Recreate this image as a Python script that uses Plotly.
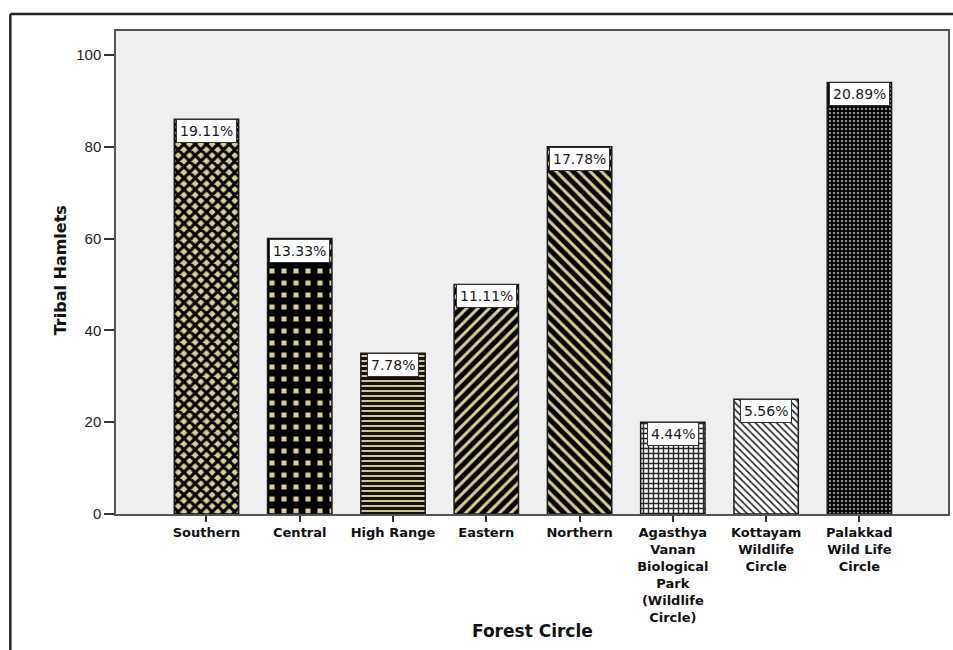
import plotly.graph_objects as go

# Forest circles and the number of tribal hamlets in each
categories = [
    "Southern",
    "Central",
    "High Range",
    "Eastern",
    "Northern",
    "Agasthya<br>Vanan<br>Biological<br>Park<br>(Wildlife<br>Circle)",
    "Kottayam<br>Wildlife<br>Circle",
    "Palakkad<br>Wild Life<br>Circle",
]
hamlets = [86, 60, 35, 50, 80, 20, 25, 94]
share_labels = ["19.11%", "13.33%", "7.78%", "11.11%", "17.78%", "4.44%", "5.56%", "20.89%"]
y_ticks = [0, 20, 40, 60, 80, 100]

KHAKI = "#d8cf93"

# fill pattern for each bar: (shape, foreground, background, size, solidity)
patterns = [
    ("x", "#000000", KHAKI, 8, 0.62),
    ("+", "#000000", KHAKI, 12, 0.82),
    ("-", "#14140c", KHAKI, 5, 0.62),
    ("/", "#000000", KHAKI, 8, 0.62),
    ("\\", "#000000", KHAKI, 8, 0.62),
    ("+", "#2a2a2a", "#ffffff", 5, 0.5),
    ("\\", "#222222", "#ffffff", 5, 0.32),
    (".", "#8c8c8c", "#000000", 4, 0.3),
]

x_idx = list(range(len(categories)))

fig = go.Figure()
for i, (cat, val, pat) in enumerate(zip(categories, hamlets, patterns)):
    shape, fg, bg, size, sol = pat
    fig.add_trace(
        go.Bar(
            x=[i],
            y=[val],
            width=0.69,
            marker=dict(
                color=bg,
                line=dict(color="#1a1a1a", width=1.5),
                pattern=dict(shape=shape, fgcolor=fg, bgcolor=bg, fgopacity=1,
                             size=size, solidity=sol, fillmode="replace"),
            ),
            showlegend=False,
            hoverinfo="skip",
        )
    )

# percentage labels sitting just inside the top of each bar
annotations = []
for i, (val, lab) in enumerate(zip(hamlets, share_labels)):
    annotations.append(
        dict(
            x=i, y=val, xref="x", yref="y",
            text=lab, showarrow=False,
            yanchor="top", xanchor="center",
            bgcolor="#ffffff", bordercolor="#333333", borderwidth=1, borderpad=3,
            font=dict(family="DejaVu Sans", size=14, color="#1a1a1a"),
        )
    )

# axis titles
annotations.append(
    dict(
        x=-0.067, y=0.505, xref="paper", yref="paper",
        text="<b>Tribal Hamlets</b>", showarrow=False, textangle=-90,
        xanchor="center", yanchor="middle",
        font=dict(family="DejaVu Sans", size=16, color="#111111"),
    )
)
annotations.append(
    dict(
        x=0.5, y=-0.242, xref="paper", yref="paper",
        text="<b>Forest Circle</b>", showarrow=False,
        xanchor="center", yanchor="middle",
        font=dict(family="DejaVu Sans", size=17, color="#111111"),
    )
)

# outer frame (top and left edges)
frame_shapes = [
    dict(type="line", xref="paper", yref="paper", x0=-0.127, x1=1.01, y0=1.035, y1=1.035,
         line=dict(color="#222222", width=2.5)),
    dict(type="line", xref="paper", yref="paper", x0=-0.127, x1=-0.127, y0=1.035, y1=-0.3,
         line=dict(color="#222222", width=2.5)),
]

fig.update_layout(
    width=953,
    height=650,
    margin=dict(l=116, r=3, t=31, b=136),
    paper_bgcolor="#ffffff",
    plot_bgcolor="#efefef",
    bargap=0.3,
    annotations=annotations,
    shapes=frame_shapes,
    xaxis=dict(
        range=[-0.97, 7.95],
        tickmode="array",
        tickvals=x_idx,
        ticktext=[f"<b>{c}</b>" for c in categories],
        ticks="outside", ticklen=6, tickwidth=1.5, tickcolor="#333333",
        tickfont=dict(family="DejaVu Sans", size=13, color="#111111"),
        showline=True, linecolor="#555555", linewidth=1.5, mirror=True,
        showgrid=False, zeroline=False, fixedrange=True,
    ),
    yaxis=dict(
        range=[0, 105.2],
        tickmode="array",
        tickvals=y_ticks,
        ticktext=[str(t) for t in y_ticks],
        ticks="outside", ticklen=10, tickwidth=1.5, tickcolor="#333333",
        tickfont=dict(family="Liberation Sans, Arial", size=15, color="#222222"),
        showline=True, linecolor="#555555", linewidth=1.5, mirror=True,
        showgrid=False, zeroline=False, fixedrange=True,
    ),
)

fig.write_html("out.html", config={"displayModeBar": False})
